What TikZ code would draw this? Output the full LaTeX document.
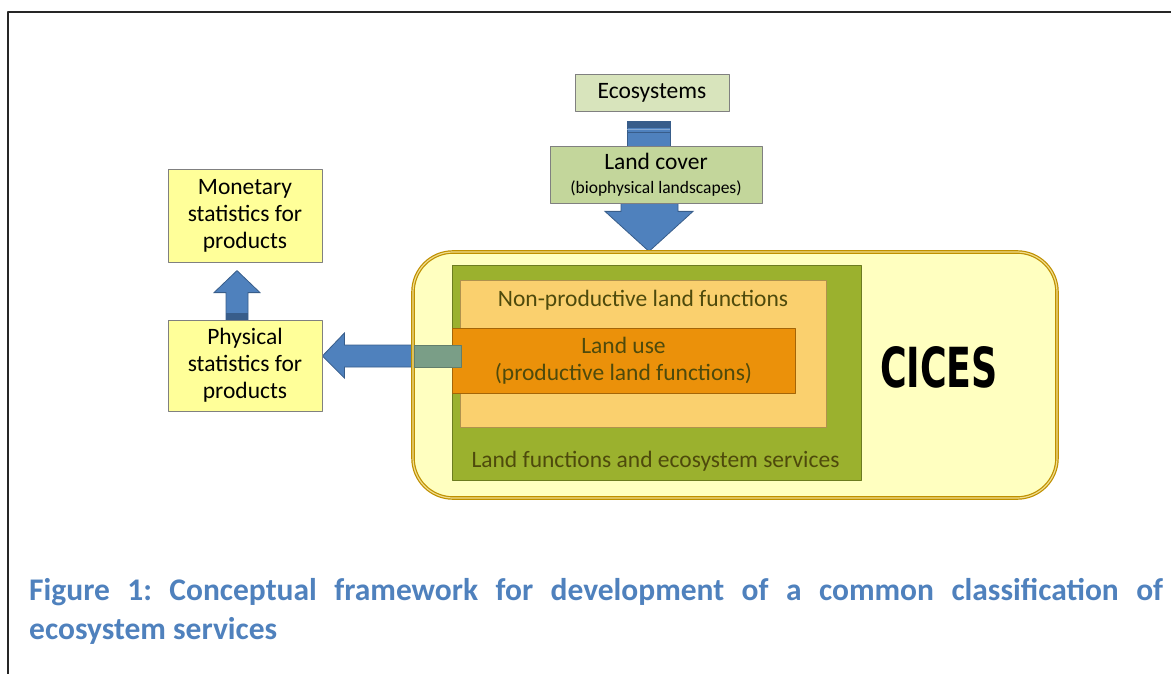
\documentclass[tikz,border=0pt]{standalone}
\usepackage{fontspec}
\setmainfont{Carlito}
\newfontfamily\cicesfont{DejaVu Sans}
\usetikzlibrary{calc,positioning,backgrounds}
\definecolor{ecofill}{RGB}{216,228,188}
\definecolor{coverfill}{RGB}{195,214,155}
\definecolor{statfill}{RGB}{255,255,153}
\definecolor{arrowblue}{RGB}{79,129,189}
\definecolor{arrowedge}{RGB}{56,93,138}
\definecolor{cicesfill}{RGB}{255,255,192}
\definecolor{cicesedge}{RGB}{191,144,0}
\definecolor{cicesline}{RGB}{240,220,140}
\definecolor{funcgreen}{RGB}{155,177,46}
\definecolor{nonprod}{RGB}{250,208,110}
\definecolor{landuse}{RGB}{235,145,10}
\definecolor{olivetext}{RGB}{78,74,12}
\definecolor{captionblue}{RGB}{79,129,189}
\definecolor{overlap}{RGB}{122,158,135}
\frenchspacing
\begin{document}
\begin{tikzpicture}[x=1pt, y=-1pt, line join=round, >=stealth,
	box/.style={draw=black!50, line width=0.8pt, inner sep=0pt, align=center, font=\fontsize{23.5}{27}\selectfont},
	innertext/.style={inner sep=0pt, text=olivetext, font=\fontsize{23.5}{27}\selectfont},
	fatarrow/.style={fill=arrowblue, draw=arrowedge, line width=0.8pt}]
	\useasboundingbox (0,0) rectangle (1171,674);
	\draw[line width=1.6pt, black!85] (8,674) -- (8,12) -- (1171,12);
	% boxes
	\node (eco) at (652,92.5) [box, fill=ecofill, minimum width=154pt, minimum height=37pt] {Ecosystems};
	\node (lc) at (656,174.5) [box, fill=coverfill, minimum width=212pt, minimum height=57pt] {Land cover\\[-3pt]{\fontsize{17.5}{20}\selectfont(biophysical landscapes)}};
	\node (mon) at (245,215.5) [box, fill=statfill, minimum width=154pt, minimum height=93pt] {Monetary\\statistics for\\products};
	\node (phy) at (245,365.5) [box, fill=statfill, minimum width=154pt, minimum height=91pt] {Physical\\statistics for\\products};
	\node (cices) at (735,375) [draw=cicesedge, line width=1.2pt, double=cicesline, double distance=1.2pt, fill=cicesfill, rounded corners=40pt, minimum width=644pt, minimum height=246pt] {};
	\node (lf) at (656.5,372.5) [draw=funcgreen!70!black, line width=0.8pt, fill=funcgreen, minimum width=409pt, minimum height=215pt] {};
	\node (np) at (643,353.5) [draw=nonprod!70!black, line width=0.8pt, fill=nonprod, minimum width=366pt, minimum height=147pt] {};
	\node (lu) at (623.5,360.5) [box, draw=landuse!70!black, fill=landuse, text=olivetext, minimum width=343pt, minimum height=65pt] {Land use\\(productive land functions)};
	\node (nplabel) at (643,300) [innertext] {Non-productive land functions};
	\node (lflabel) at (655.5,461) [innertext] {Land functions and ecosystem services};
	\node (cicestext) at (939,367.5) [inner sep=0pt] {\resizebox{118pt}{41pt}{\cicesfont\bfseries CICES}};
	% block arrows
	\begin{scope}[on background layer]
	\draw[fatarrow] ($(eco.south)+(-25,10)$) rectangle ($(lc.north)+(14,6)$);
	\fill[arrowedge] ($(eco.south)+(-25,10)$) rectangle ($(eco.south)+(18,17)$);
	\draw[arrowblue!70!white, line width=1pt] ($(eco.south)+(-25,18)$) -- ++(43,0);
	\draw[arrowedge, line width=1pt] ($(eco.south)+(-25,21.5)$) -- ++(43,0);
	\path (lc.south) ++(-7,0) coordinate (dtop);
	\coordinate (dtip) at (dtop |- cices.north);
	\draw[fatarrow] (dtip) -- ++(-44,-40) -- ++(16,0) -- ++(0,-20) -- ++(57,0) -- ++(0,20) -- ++(15,0) -- cycle;
	\draw[fatarrow] ($(phy.north)+(-19,2)$) -- ++(0,-29) -- ++(-12,0) -- ++(23,-22) -- ++(23,22) -- ++(-12,0) -- ++(0,29) -- cycle;
	\fill[arrowedge] ($(phy.north)+(-19,-7)$) rectangle ($(phy.north)+(3,0)$);
	\coordinate (ltip) at ($(phy.east)+(0,-9.5)$);
	\draw[fatarrow] (ltip) -- ++(22,-23) -- ++(0,12) -- ++(120,0) -- ++(0,22) -- ++(-120,0) -- ++(0,11) -- cycle;
	\end{scope}
	\draw[fill=overlap, draw=overlap!80!black, line width=0.6pt] ($(cices.west)+(2,-30)$) rectangle ($(lu.west)+(10,6.5)$);
	% caption
	\node (caption) at (29,578) [anchor=north west, inner sep=0pt, text width=1134pt, align=justify, text=captionblue, font=\fontsize{31.5}{39}\selectfont\bfseries] {Figure 1: Conceptual framework for development of a common classification of\linebreak ecosystem services};
\end{tikzpicture}
\end{document}
